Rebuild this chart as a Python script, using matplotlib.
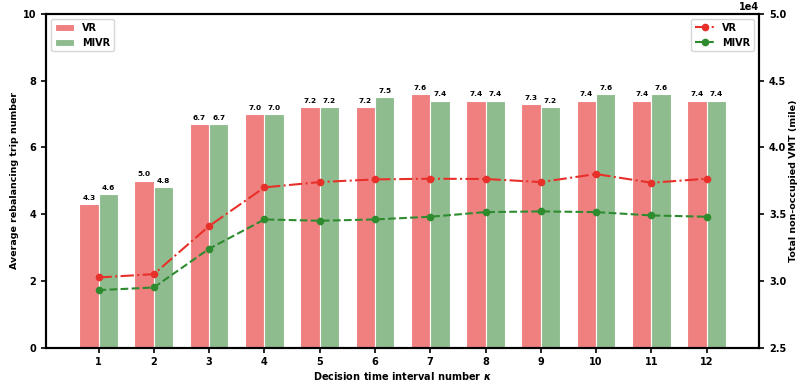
import matplotlib
matplotlib.use("Agg")
import matplotlib.pyplot as plt
import numpy as np

# decision time intervals
kappa = np.arange(1, 13)

# average rebalancing trips per interval
trips_vr = [4.3, 5.0, 6.7, 7.0, 7.2, 7.2, 7.6, 7.4, 7.3, 7.4, 7.4, 7.4]
trips_mivr = [4.6, 4.8, 6.7, 7.0, 7.2, 7.5, 7.4, 7.4, 7.2, 7.6, 7.6, 7.4]

# total non-occupied VMT (mile)
vmt_vr = [30250, 30500, 34100, 37000, 37400, 37600, 37650, 37630, 37400, 38000, 37350, 37650]
vmt_mivr = [29300, 29500, 32400, 34600, 34500, 34600, 34800, 35150, 35200, 35150, 34900, 34800]

plt.rcParams["font.weight"] = "bold"
plt.rcParams["axes.labelweight"] = "bold"
plt.rcParams["font.size"] = 7
plt.rc('axes', linewidth=1.5)

fig = plt.figure(figsize=(8, 3.87), dpi=100)
ax = fig.add_axes([0.0575, 0.102, 0.8915, 0.862])

w = 0.35
b1 = ax.bar(kappa - w / 2, trips_vr, w, color="#f08080", edgecolor="white", linewidth=0.8, label="VR")
b2 = ax.bar(kappa + w / 2, trips_mivr, w, color="#8fbc8f", edgecolor="white", linewidth=0.8, label="MIVR")
for bars, vals in ((b1, trips_vr), (b2, trips_mivr)):
    for r, v in zip(bars, vals):
        ax.text(r.get_x() + r.get_width() / 2, v + 0.1, f"{v:.1f}", ha="center", va="bottom",
                fontsize=5.3, fontweight="bold")

ax.set_xlim(0.05, 12.95)
ax.set_ylim(0, 10)
ax.set_xticks(kappa)
ax.set_xlabel(r"Decision time interval number $\kappa$", labelpad=2)
ax.set_ylabel("Average rebalancing trip number", fontsize=6.8, labelpad=3)
ax.legend(loc="upper left", fontsize=7)

ax2 = ax.twinx()
ax2.plot(kappa, vmt_vr, "-.o", color="#e8302a", markersize=4.5, linewidth=1.5, label="VR")
ax2.plot(kappa, vmt_mivr, "--o", color="#2e8b2e", markersize=4.5, linewidth=1.5, label="MIVR")
ax2.set_ylim(25000, 50000)
ax2.ticklabel_format(axis="y", style="sci", scilimits=(4, 4))
ax2.set_ylabel("Total non-occupied VMT (mile)", fontsize=6.8, labelpad=2)
ax2.legend(loc="upper right", fontsize=7)

for a in (ax, ax2):
    a.tick_params(width=1.2, length=3.5, labelsize=7)

plt.savefig("out.png", dpi=100)
